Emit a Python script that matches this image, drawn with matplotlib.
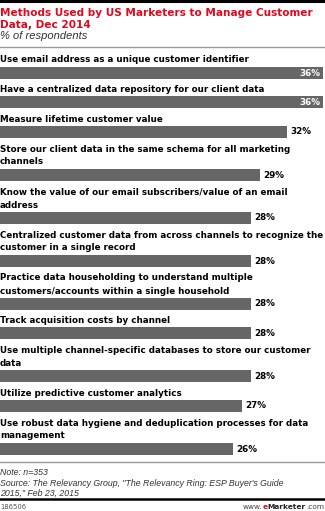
import matplotlib
matplotlib.use("Agg")
from matplotlib import pyplot as plt
from matplotlib.lines import Line2D

# chart data
labels = [
    "Use email address as a unique customer identifier",
    "Have a centralized data repository for our client data",
    "Measure lifetime customer value",
    "Store our client data in the same schema for all marketing\nchannels",
    "Know the value of our email subscribers/value of an email\naddress",
    "Centralized customer data from across channels to recognize the\ncustomer in a single record",
    "Practice data householding to understand multiple\ncustomers/accounts within a single household",
    "Track acquisition costs by channel",
    "Use multiple channel-specific databases to store our customer\ndata",
    "Utilize predictive customer analytics",
    "Use robust data hygiene and deduplication processes for data\nmanagement",
]
values = [36, 36, 32, 29, 28, 28, 28, 28, 28, 27, 26]

title = ["Methods Used by US Marketers to Manage Customer", "Data, Dec 2014"]
subtitle = "% of respondents"
note = ["Note: n=353",
        "Source: The Relevancy Group, \"The Relevancy Ring: ESP Buyer's Guide",
        "2015,\" Feb 23, 2015"]
chart_id = "186506"

W, H = 325, 511
RED = "#dc0a1e"
BAR = "#666666"
BOLD = "DejaVu Sans"
LSIZE = 6.3

fig = plt.figure(figsize=(W / 100, H / 100), dpi=100)

# overlay in pixel units for text and rules
ov = fig.add_axes([0, 0, 1, 1])
ov.set_xlim(0, W)
ov.set_ylim(H, 0)
ov.axis("off")

# bar axes: x in percent, y in pixels
ax = fig.add_axes([0, 0, 1, 1], facecolor="none")
ax.set_xlim(0, 36 * W / 323)
ax.set_ylim(H, 0)
ax.axis("off")

# header
ov.add_line(Line2D([0, W], [1.5, 1.5], color="black", lw=2.2))
for k, line in enumerate(title):
    ov.text(0, 15.5 + 12 * k, line, color=RED, fontsize=7.55, fontweight="bold",
            family=BOLD, va="baseline")
ov.text(0, 39, subtitle, color="#333333", fontsize=8.0, style="italic",
        family="Liberation Sans", va="baseline")
ov.add_line(Line2D([0, W], [47, 47], color="#9a9a9a", lw=1.0))

# bar rows
bar_h = 12
line_h = 13
y = 73
for i, (lab, val) in enumerate(zip(labels, values)):
    lines = lab.split("\n")
    n = len(lines)
    if i > 0:
        y += 29.5 + 13.5 * (n - 1)
    ax.barh(y, val, height=bar_h, color=BAR, left=0)
    base = y - bar_h / 2 - 4.5 - line_h * (n - 1)
    for k, line in enumerate(lines):
        ov.text(0, base + line_h * k, line, fontsize=LSIZE, fontweight="bold",
                family=BOLD, color="black", va="baseline")
    if val == max(values):
        ax.annotate(f"{val}%", (val, y), xytext=(-2, 0), textcoords="offset points",
                    ha="right", va="center", color="white", fontsize=LSIZE,
                    fontweight="bold", family=BOLD)
    else:
        ax.annotate(f"{val}%", (val, y), xytext=(2.2, 0), textcoords="offset points",
                    ha="left", va="center", color="black", fontsize=LSIZE,
                    fontweight="bold", family=BOLD)

# footer
ov.add_line(Line2D([0, W], [462, 462], color="#9a9a9a", lw=1.0))
for k, line in enumerate(note):
    ov.text(0, 475 + 10.5 * k, line, color="#333333", fontsize=6.3, style="italic",
            family="Liberation Sans", va="baseline")
ov.add_line(Line2D([0, W], [499.5, 499.5], color="black", lw=1.8))
ov.text(0, 509, chart_id, color="#555555", fontsize=4.9,
        family="DejaVu Sans", va="baseline")

# right-aligned site mark built from pieces
site = [("www.", "#444444", "normal"), ("e", RED, "bold"),
        ("Marketer", "#222222", "bold"), (".com", "#444444", "normal")]
renderer = fig.canvas.get_renderer()
x = 324
for txt, col, wt in reversed(site):
    t = ov.text(x, 509, txt, color=col, fontsize=5.3, fontweight=wt,
                family="DejaVu Sans", va="baseline", ha="right")
    bb = t.get_window_extent(renderer=renderer)
    x -= bb.width

fig.savefig("out.png", dpi=100)
